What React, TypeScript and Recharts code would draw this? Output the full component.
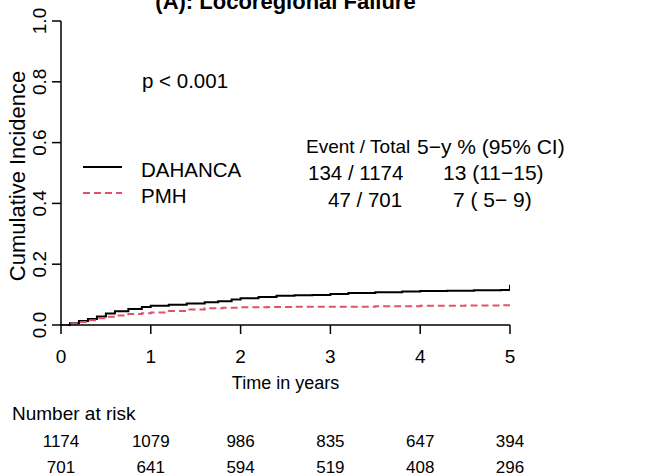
import React from "react";
import { LineChart, Line, XAxis, YAxis } from "recharts";

const timeTicks = [0, 1, 2, 3, 4, 5];
const incidenceTicks = [0, 0.2, 0.4, 0.6, 0.8, 1.0];
const incidenceTickLabels = ["0.0", "0.2", "0.4", "0.6", "0.8", "1.0"];

const groups = ["DAHANCA", "PMH"];
const eventTotals = ["134 / 1174", "47 / 701"];
const fiveYear = ["13 (11\u221215)", "7 ( 5\u2212 9)"];

const riskDahanca = [1174, 1079, 986, 835, 647, 394];
const riskPmh = [701, 641, 594, 519, 408, 296];

const dahancaTime = [0, 0.1, 0.2, 0.3, 0.4, 0.5, 0.6, 0.75, 0.9, 1.0, 1.2, 1.4, 1.6, 1.75, 1.9, 2.0, 2.2, 2.4, 2.6, 2.8, 3.0, 3.2, 3.5, 3.8, 4.0, 4.3, 4.6, 4.9, 5.0];
const dahancaInc = [0, 0.006, 0.013, 0.02, 0.028, 0.038, 0.045, 0.053, 0.059, 0.063, 0.067, 0.071, 0.075, 0.078, 0.084, 0.088, 0.092, 0.096, 0.098, 0.099, 0.102, 0.105, 0.108, 0.11, 0.112, 0.113, 0.114, 0.115, 0.132];

const pmhTime = [0, 0.1, 0.2, 0.3, 0.4, 0.5, 0.6, 0.75, 0.9, 1.0, 1.2, 1.4, 1.6, 1.8, 2.0, 2.3, 2.6, 3.0, 3.5, 4.0, 4.5, 4.9, 5.0];
const pmhInc = [0, 0.005, 0.01, 0.016, 0.022, 0.027, 0.031, 0.036, 0.039, 0.041, 0.046, 0.051, 0.055, 0.057, 0.058, 0.059, 0.06, 0.06, 0.062, 0.063, 0.064, 0.065, 0.068];

const dahancaData = dahancaTime.map((t, i) => ({ t, v: dahancaInc[i] }));
const pmhData = pmhTime.map((t, i) => ({ t, v: pmhInc[i] }));

const FONT = "'Liberation Sans', Arial, Helvetica, sans-serif";
const RED = "#DF536B";

const XTick = (props: any) => {
  const { x, payload, index } = props;
  return (
    <g>
      <text x={x} y={356} textAnchor="middle" dominantBaseline="central" fontSize={19} fontFamily={FONT} fill="#000">
        {payload.value}
      </text>
      <text x={x} y={441} textAnchor="middle" dominantBaseline="central" fontSize={17} fontFamily={FONT} fill="#000">
        {riskDahanca[index]}
      </text>
      <text x={x} y={467} textAnchor="middle" dominantBaseline="central" fontSize={17} fontFamily={FONT} fill="#000">
        {riskPmh[index]}
      </text>
    </g>
  );
};

const YTick = (props: any) => {
  const { y, index } = props;
  return (
    <text x={0} y={0} transform={`translate(39,${y}) rotate(-90)`} textAnchor="middle" dominantBaseline="central" fontSize={19} fontFamily={FONT} fill="#000">
      {incidenceTickLabels[index]}
    </text>
  );
};

export default function App() {
  return (
    <div style={{ position: "absolute", left: 0, top: 0, width: 649, height: 476, background: "#fff" }}>
      <LineChart width={649} height={476} margin={{ top: 21, right: 139, bottom: 0, left: 21 }}>
        <XAxis
          type="number"
          dataKey="t"
          domain={[0, 5]}
          ticks={timeTicks}
          allowDataOverflow
          tickSize={9}
          stroke="#000"
          axisLine={{ stroke: "#000", strokeWidth: 1.5 }}
          tickLine={{ stroke: "#000", strokeWidth: 1.5 }}
          tick={<XTick />}
          height={151}
        />
        <YAxis
          type="number"
          dataKey="v"
          domain={[0, 1]}
          ticks={incidenceTicks}
          tickSize={9}
          width={40}
          axisLine={{ stroke: "#000", strokeWidth: 1.5 }}
          tickLine={{ stroke: "#000", strokeWidth: 1.5 }}
          tick={<YTick />}
        />
        <Line data={dahancaData} dataKey="v" type="stepAfter" stroke="#000" strokeWidth={2} dot={false} isAnimationActive={false} />
        <Line data={pmhData} dataKey="v" type="stepAfter" stroke={RED} strokeWidth={2} strokeDasharray="7 4" dot={false} isAnimationActive={false} />
      </LineChart>
      <svg width={649} height={476} style={{ position: "absolute", left: 0, top: 0, pointerEvents: "none" }} fontFamily={FONT}>
        <text x={285.5} y={9} textAnchor="middle" fontSize={22} fontWeight="bold" fill="#000">(A): Locoregional Failure</text>
        <text x={0} y={0} transform="translate(17,176) rotate(-90)" textAnchor="middle" dominantBaseline="central" fontSize={22} fill="#000">Cumulative Incidence</text>
        <text x={285.5} y={383} textAnchor="middle" dominantBaseline="central" fontSize={18} fill="#000">Time in years</text>
        <text x={12} y={413} dominantBaseline="central" fontSize={19} fill="#000">Number at risk</text>
        <text x={142} y={80} dominantBaseline="central" fontSize={20.5} fill="#000">p &lt; 0.001</text>
        <line x1={83} x2={122} y1={167} y2={167} stroke="#000" strokeWidth={2} />
        <line x1={83} x2={122} y1={193} y2={193} stroke={RED} strokeWidth={2} strokeDasharray="7 4" />
        <text x={141} y={169} dominantBaseline="central" fontSize={20.5} fill="#000">{groups[0]}</text>
        <text x={141} y={195} dominantBaseline="central" fontSize={20.5} fill="#000">{groups[1]}</text>
        <text x={306} y={146} dominantBaseline="central" fontSize={19} fill="#000">Event / Total</text>
        <text x={417} y={146} dominantBaseline="central" fontSize={21} fill="#000">5{"\u2212"}y % (95% CI)</text>
        <text x={308} y={172} dominantBaseline="central" fontSize={20.5} fill="#000">{eventTotals[0]}</text>
        <text x={328} y={199} dominantBaseline="central" fontSize={20.5} fill="#000">{eventTotals[1]}</text>
        <text x={443} y={172} dominantBaseline="central" fontSize={21} fill="#000">{fiveYear[0]}</text>
        <text x={453} y={199} dominantBaseline="central" fontSize={21} fill="#000">{fiveYear[1]}</text>
      </svg>
    </div>
  );
}
